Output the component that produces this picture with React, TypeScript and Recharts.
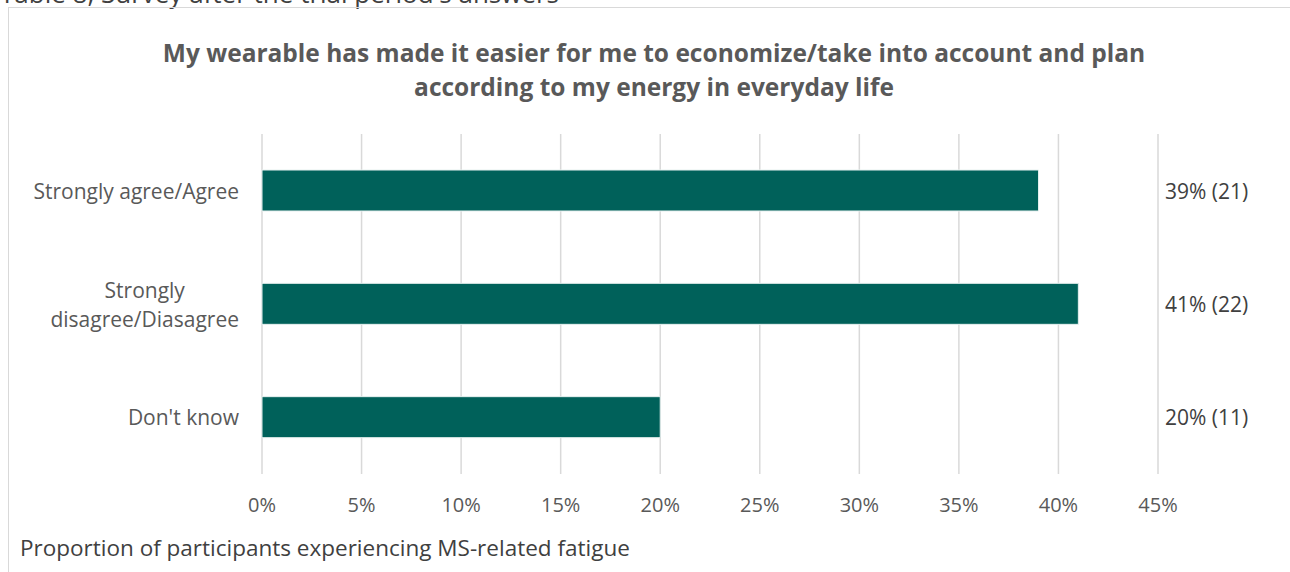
import React from 'react';
import { BarChart, Bar, XAxis, YAxis, CartesianGrid } from 'recharts';

const categories = ['Strongly agree/Agree', 'Strongly disagree/Diasagree', "Don't know"];
const shares = [39, 41, 20];
const counts = [21, 22, 11];
const xTicks = [0, 5, 10, 15, 20, 25, 30, 35, 40, 45];

const FONT = '"Open Sans", sans-serif';
const BAR_COLOR = '#00615a';
const LABEL_SIZE = 21;

const data = categories.map((name, i) => ({ name, share: shares[i], count: counts[i] }));

// canvas text measuring so the wrapped label block can be centred like Excel does
const measure = (() => {
  let ctx: CanvasRenderingContext2D | null = null;
  return (text: string, font: string) => {
    if (!ctx) ctx = document.createElement('canvas').getContext('2d');
    if (!ctx) return text.length * 10;
    ctx.font = font;
    return ctx.measureText(text).width;
  };
})();

const CategoryTick = (props: any) => {
  const { x, y, payload } = props;
  const text: string = payload.value;
  const font = `${LABEL_SIZE}px ${FONT}`;
  const cut = text.indexOf(' ');
  const lines = measure(text, font) > 225 ? [text.slice(0, cut), text.slice(cut + 1)] : [text];
  const blockW = Math.max(...lines.map((l) => measure(l, font)));
  const cx = x - 15 - blockW / 2;
  const lineH = 29;
  const startY = y - ((lines.length - 1) * lineH) / 2;
  return (
    <text fill="#595959" fontSize={LABEL_SIZE} fontFamily={FONT} textAnchor="middle" dominantBaseline="central">
      {lines.map((l, i) => (
        <tspan key={i} x={cx} y={startY + i * lineH}>
          {l}
        </tspan>
      ))}
    </text>
  );
};

const ValueTick = (props: any) => {
  const { x, y, payload } = props;
  const row = data.find((d) => d.name === payload.value);
  if (!row) return null;
  return (
    <text x={x - 1} y={y} fill="#404040" fontSize={LABEL_SIZE} fontFamily={FONT} textAnchor="start" dominantBaseline="central">
      {`${row.share}% (${row.count})`}
    </text>
  );
};

export default function App() {
  return (
    <div style={{ position: 'absolute', left: 0, top: 0, width: 1290, height: 572, overflow: 'hidden', background: '#fff', fontFamily: FONT }}>
      <div style={{ position: 'absolute', left: 0, top: -24, fontSize: 26, lineHeight: '34px', color: '#404040', whiteSpace: 'nowrap' }}>
        Table 8, Survey after the trial period's answers
      </div>
      <div style={{ position: 'absolute', left: 8, top: 7, width: 1300, height: 620, border: '1px solid #d9d9d9' }} />
      <div
        style={{
          position: 'absolute',
          left: 0,
          top: 36,
          width: 1308,
          textAlign: 'center',
          fontSize: 24.5,
          fontWeight: 700,
          lineHeight: '34px',
          color: '#595959',
        }}
      >
        My wearable has made it easier for me to economize/take into account and plan
        <br />
        according to my energy in everyday life
      </div>
      <div style={{ position: 'absolute', left: 20, top: 532, fontSize: 22.5, lineHeight: '32px', color: '#404040', whiteSpace: 'nowrap' }}>
        Proportion of participants experiencing MS-related fatigue
      </div>
      <div style={{ position: 'absolute', left: 0, top: 0 }}>
        <BarChart
          width={1290}
          height={572}
          data={data}
          layout="vertical"
          margin={{ top: 134, right: 12, bottom: 58, left: 32 }}
          barSize={41}
        >
          <CartesianGrid horizontal={false} stroke="#d9d9d9" strokeWidth={1.5} />
          <XAxis
            type="number"
            dataKey="share"
            domain={[0, 45]}
            ticks={xTicks}
            interval={0}
            axisLine={false}
            tickLine={false}
            height={40}
            tickMargin={18}
            tick={{ fill: '#595959', fontSize: 20, fontFamily: FONT }}
            tickFormatter={(v: number) => `${v}%`}
          />
          <YAxis
            yAxisId="left"
            type="category"
            dataKey="name"
            width={230}
            axisLine={false}
            tickLine={false}
            tick={<CategoryTick />}
          />
          <YAxis
            yAxisId="right"
            orientation="right"
            type="category"
            dataKey="name"
            width={120}
            axisLine={false}
            tickLine={false}
            tick={<ValueTick />}
          />
          <Bar yAxisId="left" dataKey="share" fill={BAR_COLOR} stroke="#e6f0ef" strokeWidth={1} isAnimationActive={false} />
        </BarChart>
      </div>
    </div>
  );
}
